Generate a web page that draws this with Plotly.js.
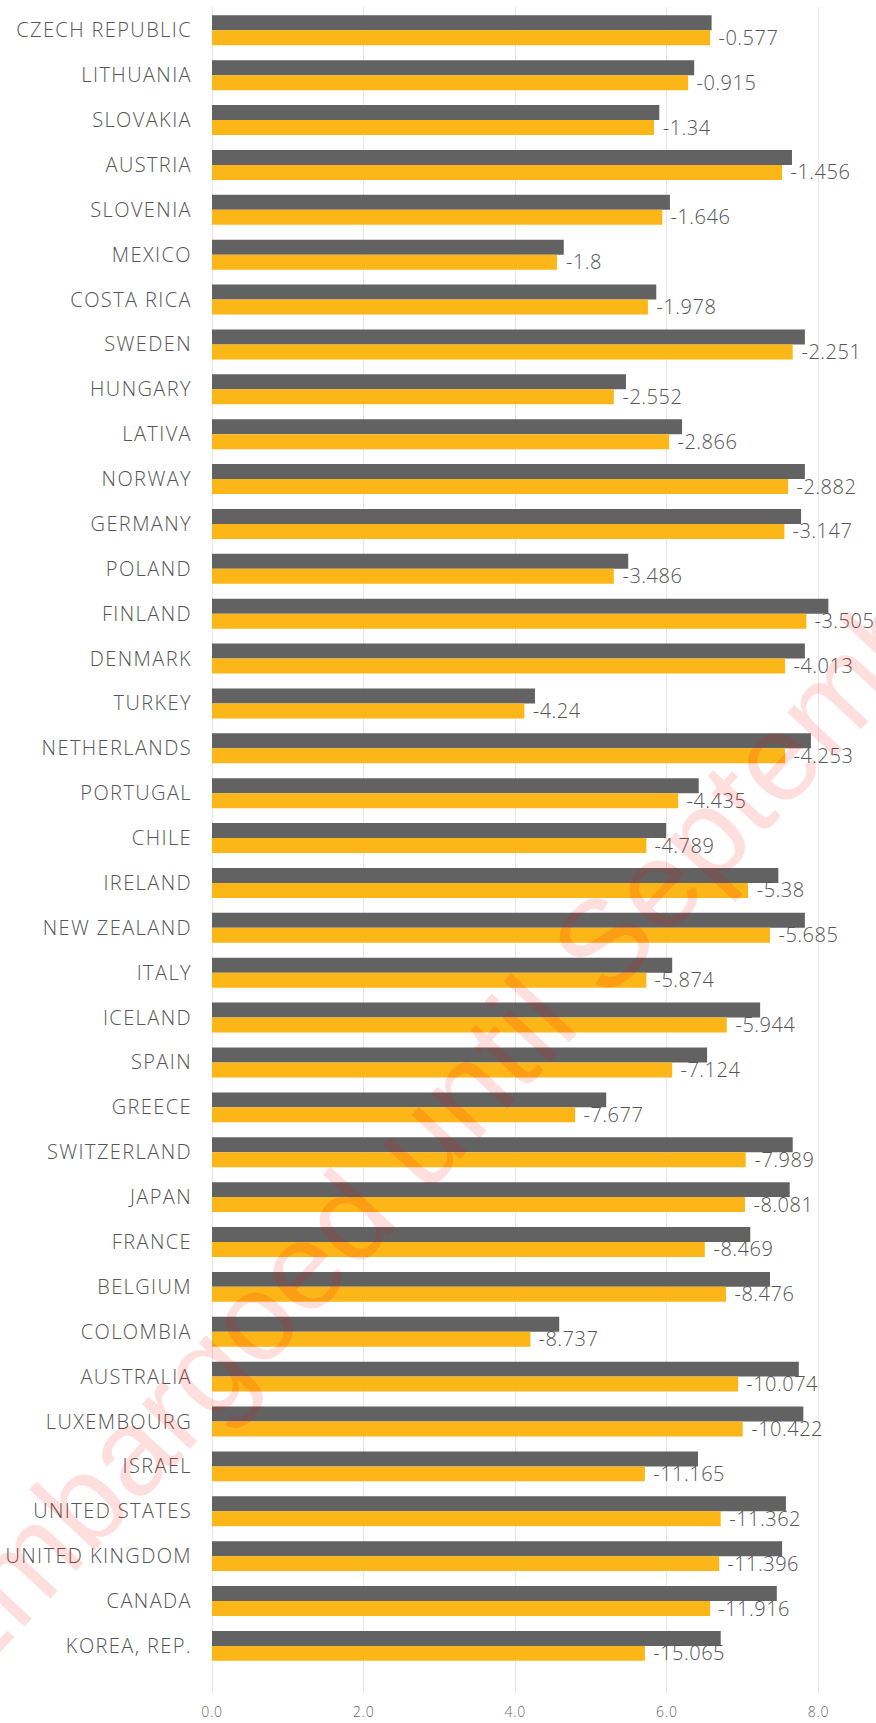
<!DOCTYPE html>
<html>
<head>
<meta charset="utf-8">
<script src="https://cdn.plot.ly/plotly-3.0.1.min.js"></script>
<style>
html,body{margin:0;padding:0;background:#fff;}
#chart{width:876px;height:1723px;}
#chart .ytick text{letter-spacing:1.4px;}
#chart .xtick text{letter-spacing:0.8px;}
#chart .annotation-text{letter-spacing:0.5px;}
</style>
</head>
<body>
<div id="chart"></div>
<script>
const countries = ["CZECH REPUBLIC","LITHUANIA","SLOVAKIA","AUSTRIA","SLOVENIA","MEXICO","COSTA RICA","SWEDEN","HUNGARY","LATIVA","NORWAY","GERMANY","POLAND","FINLAND","DENMARK","TURKEY","NETHERLANDS","PORTUGAL","CHILE","IRELAND","NEW ZEALAND","ITALY","ICELAND","SPAIN","GREECE","SWITZERLAND","JAPAN","FRANCE","BELGIUM","COLOMBIA","AUSTRALIA","LUXEMBOURG","ISRAEL","UNITED STATES","UNITED KINGDOM","CANADA","KOREA, REP."];
const seriesDark = [6.59,6.36,5.90,7.65,6.04,4.64,5.86,7.82,5.46,6.20,7.82,7.77,5.49,8.13,7.82,4.26,7.90,6.42,5.99,7.47,7.82,6.07,7.23,6.53,5.20,7.66,7.62,7.10,7.36,4.58,7.74,7.80,6.41,7.57,7.52,7.45,6.71];
const seriesOrange = [6.57,6.28,5.83,7.52,5.94,4.55,5.75,7.66,5.30,6.03,7.60,7.55,5.30,7.84,7.56,4.12,7.56,6.15,5.73,7.07,7.36,5.73,6.79,6.07,4.79,7.04,7.03,6.50,6.78,4.20,6.94,7.00,5.71,6.71,6.69,6.57,5.71];
const changeLabels = [-0.577,-0.915,-1.34,-1.456,-1.646,-1.8,-1.978,-2.251,-2.552,-2.866,-2.882,-3.147,-3.486,-3.505,-4.013,-4.24,-4.253,-4.435,-4.789,-5.38,-5.685,-5.874,-5.944,-7.124,-7.677,-7.989,-8.081,-8.469,-8.476,-8.737,-10.074,-10.422,-11.165,-11.362,-11.396,-11.916,-15.065];
const xTicks = [0,2,4,6,8];
const watermarkText = "Embargoed until September";

const FONT = "'Open Sans', Lato, sans-serif";
const TXT = "#555555";

const traces = [
  {type:"bar", orientation:"h", y:countries, x:seriesDark, marker:{color:"#626262"}, hoverinfo:"x+y", showlegend:false},
  {type:"bar", orientation:"h", y:countries, x:seriesOrange, marker:{color:"#FCB617"}, hoverinfo:"x+y", showlegend:false}
];

const annotations = countries.map((c,i)=>({
  x: seriesOrange[i], y: c, xref:"x", yref:"y",
  text: String(changeLabels[i]), showarrow:false,
  xanchor:"left", yanchor:"middle", xshift:8, yshift:-7,
  font:{family:FONT, size:20, color:TXT, weight:300}
}));

annotations.push({
  xref:"paper", yref:"paper", x:0.382, y:0.3547,
  text: watermarkText, showarrow:false, textangle:-47,
  xanchor:"center", yanchor:"middle",
  font:{family:"'Liberation Sans', Arial, sans-serif", size:124, color:"rgba(255,0,0,0.13)"}
});

const layout = {
  width:876, height:1723,
  margin:{l:212, r:12, t:7, b:30, pad:0},
  paper_bgcolor:"#ffffff", plot_bgcolor:"#ffffff",
  barmode:"group", bargap:0.332, bargroupgap:0,
  font:{family:FONT, color:TXT},
  xaxis:{
    range:[0,8.6], tickvals:xTicks, ticktext:xTicks.map(v=>v.toFixed(1)),
    showgrid:true, gridcolor:"#e6e6e6", gridwidth:1, zeroline:true, zerolinecolor:"#e6e6e6", zerolinewidth:1,
    showline:false, ticks:"", ticklabelstandoff:9, tickfont:{family:FONT, size:14, color:"#666666", weight:300}, fixedrange:true
  },
  yaxis:{
    type:"category", range:[37.05,-0.52], showgrid:false, zeroline:false, showline:false,
    ticks:"", ticklabelstandoff:19, tickfont:{family:FONT, size:20, color:TXT, weight:300}, fixedrange:true
  },
  annotations: annotations
};

Plotly.newPlot("chart", traces, layout, {displayModeBar:false, staticPlot:true});
</script>
</body>
</html>
